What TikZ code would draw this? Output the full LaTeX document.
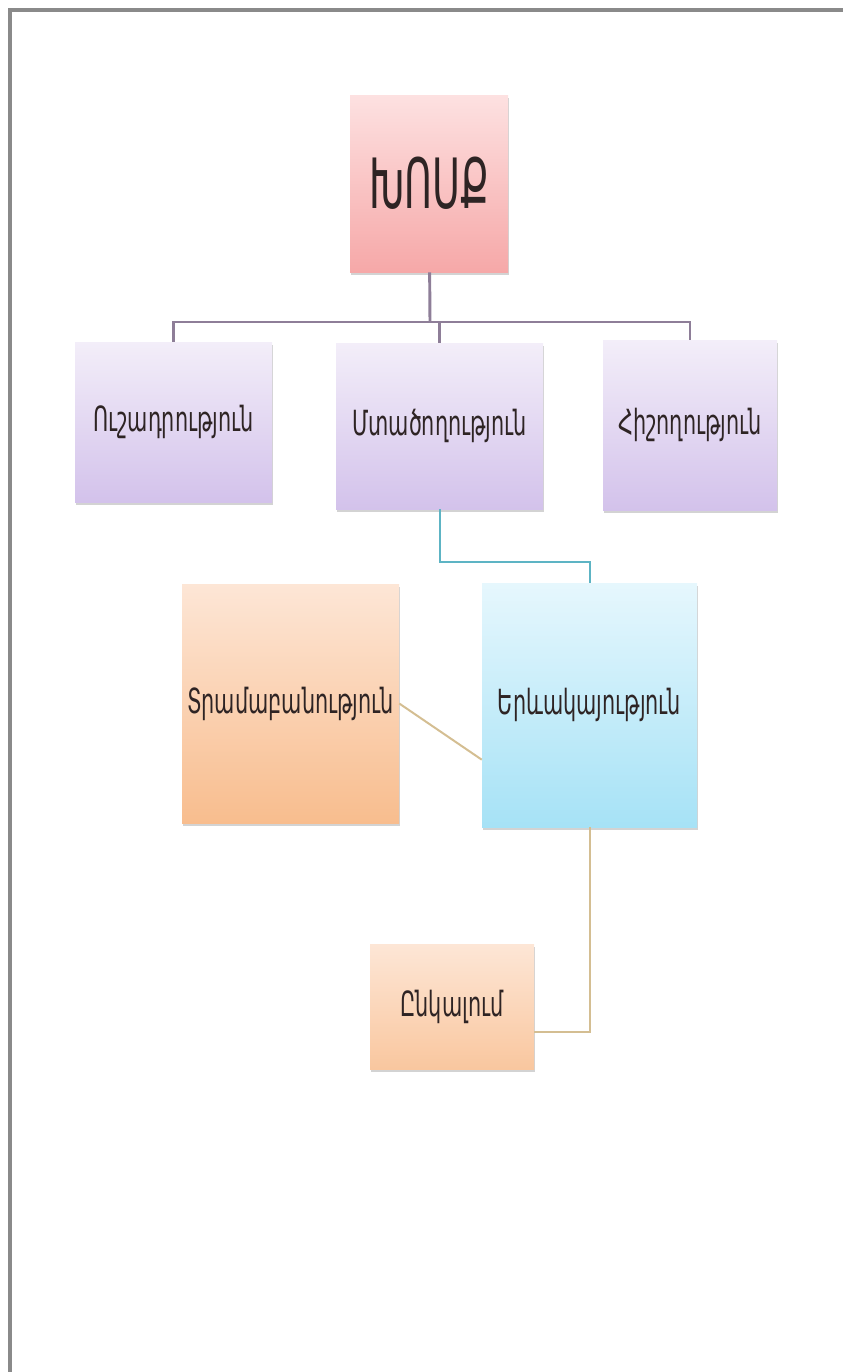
\documentclass[tikz,border=0pt]{standalone}
\usepackage{fontspec}
\usepackage{tikz}
\usetikzlibrary{shadows,positioning}
\newfontfamily\armfont[FakeStretch=0.6]{DejaVu Sans}
\newfontfamily\armtitle[FakeStretch=0.55]{DejaVu Sans}
\definecolor{inkc}{HTML}{2E2424}
\definecolor{frameg}{HTML}{8A8A8A}
\definecolor{purpl}{HTML}{8E7E98}
\definecolor{tealc}{HTML}{5DB4C4}
\definecolor{tanc}{HTML}{D4BE92}
\definecolor{pinktop}{HTML}{FDE1E1}
\definecolor{pinkbot}{HTML}{F6A8A8}
\definecolor{liltop}{HTML}{F3EEF9}
\definecolor{lilbot}{HTML}{D3C2EB}
\definecolor{peachtop}{HTML}{FDE6D6}
\definecolor{peachbot}{HTML}{F8BD8E}
\definecolor{skytop}{HTML}{E6F7FD}
\definecolor{skybot}{HTML}{A6E2F6}

\begin{document}
\begin{tikzpicture}[x=0.75pt, y=-0.75pt, font=\armfont, text=inkc]
      \tikzstyle{block} = [rectangle, inner sep=2, align=center, font=\armfont\fontsize{26}{30}\selectfont, drop shadow={shadow xshift=0.6pt, shadow yshift=-2pt, opacity=0.35}]
      \tikzstyle{pinkb} = [block, top color=pinktop, bottom color=pinkbot]
      \tikzstyle{lilac} = [block, top color=liltop, bottom color=lilbot]
      \tikzstyle{peach} = [block, top color=peachtop, bottom color=peachbot]
      \tikzstyle{skyb}  = [block, top color=skytop, bottom color=skybot]
      \tikzstyle{link}  = [line width=1.5pt]

      \useasboundingbox (0,0) rectangle (843,1372);
      \draw[frameg, line width=2.4pt] (10,1372) -- (10,10) -- (843,10);

      \node[pinkb, minimum width=118.5pt, minimum height=132.75pt, font=\armtitle\fontsize{52}{58}\selectfont] (khosk) at (429,183.5) {ԽՈՍՔ};
      \node[lilac, minimum width=147.75pt, minimum height=120pt]   (ushad) at (173.5,422)   {Ուշադրություն};
      \node[lilac, minimum width=155.25pt, minimum height=124.5pt] (mtats) at (439.5,426)   {Մտածողություն};
      \node[lilac, minimum width=130.5pt,  minimum height=127.5pt] (hish)  at (690,425)     {Հիշողություն};
      \node[peach, minimum width=162.75pt, minimum height=179.25pt](tram)  at (290.5,703.5) {Տրամաբանություն};
      \node[skyb,  minimum width=161.25pt, minimum height=183pt]   (erev)  at (589.5,705)   {Երևակայություն};
      \node[peach, bottom color=peachbot!85!white, minimum width=123pt, minimum height=93.75pt] (enkal) at (452,1006.5) {Ընկալում};

      \coordinate (hub) at (430,322);
      \begin{scope}[purpl, line width=2.2pt]
        \draw (khosk) -- (hub);
        \draw (hub) -| (ushad.north);
        \draw (hub) -| (mtats.north);
        \draw (hub) -| (hish.north);
      \end{scope}
      \draw[link, tealc] (mtats.south) -- ++(0,53) -| (erev.north);
      \draw[link, tanc]  (tram.east) -- ([yshift=-41pt]erev.west);
      \draw[link, tanc]  (erev.south) |- ([yshift=-19pt]enkal.east);
    \end{tikzpicture}
\end{document}
